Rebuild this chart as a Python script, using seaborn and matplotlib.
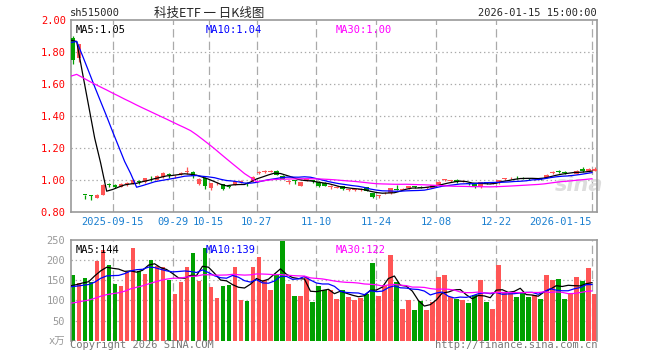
import matplotlib
matplotlib.use("Agg")
import matplotlib.pyplot as plt
import seaborn as sns
import numpy as np
import pandas as pd

# daily K-line data, 科技ETF (sh515000)
opens = [1.889, 1.763, 0.907, 0.903, 0.888, 0.908, 0.972, 0.970, 0.958, 0.973,
         0.977, 0.992, 0.985, 1.020, 1.002, 1.020, 1.036, 1.022, 1.038, 1.050,
         1.050, 0.976, 1.010, 0.950, 0.972, 0.972, 0.965, 0.970, 0.988, 0.982,
         0.992, 1.044, 1.050, 1.052, 1.058, 1.028, 0.990, 0.998, 0.965, 1.000,
         0.998, 0.990, 0.982, 0.955, 0.953, 0.960, 0.937, 0.938, 0.939, 0.955,
         0.918, 0.898, 0.916, 0.918, 0.942, 0.940, 0.947, 0.957, 0.955, 0.948,
         0.950, 0.970, 0.998, 0.993, 1.000, 0.990, 0.978, 0.977, 0.955, 0.981,
         0.978, 0.980, 1.006, 1.010, 1.018, 1.014, 1.007, 1.004, 1.007, 1.012,
         1.046, 1.055, 1.049, 1.028, 1.040, 1.070, 1.055, 1.058]
highs = [1.900, 1.853, 0.907, 0.908, 0.912, 0.972, 0.980, 0.974, 0.980, 0.986,
         1.005, 1.002, 1.013, 1.028, 1.032, 1.048, 1.046, 1.032, 1.052, 1.081,
         1.054, 1.010, 1.016, 0.984, 0.985, 0.976, 0.970, 0.995, 0.998, 0.990,
         1.024, 1.058, 1.062, 1.064, 1.062, 1.030, 0.998, 1.000, 0.988, 1.008,
         1.002, 0.995, 0.986, 0.966, 0.962, 0.965, 0.946, 0.946, 0.948, 0.958,
         0.920, 0.906, 0.922, 0.952, 0.970, 0.948, 0.965, 0.962, 0.962, 0.956,
         0.970, 0.992, 1.008, 1.002, 1.006, 0.998, 0.984, 0.980, 0.988, 0.986,
         0.986, 1.002, 1.012, 1.016, 1.026, 1.018, 1.012, 1.014, 1.012, 1.036,
         1.055, 1.062, 1.058, 1.034, 1.062, 1.080, 1.076, 1.084]
lows = [1.727, 1.740, 0.880, 0.878, 0.885, 0.905, 0.955, 0.952, 0.955, 0.962,
        0.974, 0.975, 0.980, 0.995, 0.998, 1.015, 1.012, 1.015, 1.032, 1.040,
        1.010, 0.970, 0.945, 0.940, 0.968, 0.935, 0.950, 0.966, 0.980, 0.962,
        0.988, 1.040, 1.044, 1.048, 1.030, 1.004, 0.972, 0.976, 0.960, 0.992,
        0.982, 0.956, 0.962, 0.945, 0.948, 0.938, 0.932, 0.934, 0.934, 0.930,
        0.890, 0.890, 0.912, 0.915, 0.936, 0.936, 0.944, 0.950, 0.948, 0.944,
        0.948, 0.968, 0.992, 0.988, 0.982, 0.985, 0.968, 0.950, 0.952, 0.972,
        0.972, 0.978, 1.000, 1.005, 1.008, 1.004, 1.000, 1.000, 0.998, 1.010,
        1.040, 1.045, 1.040, 1.022, 1.038, 1.050, 1.052, 1.055]
closes = [1.752, 1.847, 0.905, 0.900, 0.908, 0.970, 0.968, 0.958, 0.975, 0.976,
          1.000, 0.988, 1.010, 1.016, 1.028, 1.042, 1.032, 1.025, 1.042, 1.054,
          1.025, 1.005, 0.962, 0.980, 0.976, 0.945, 0.954, 0.992, 0.991, 0.978,
          1.020, 1.052, 1.054, 1.056, 1.033, 1.008, 0.994, 0.995, 0.985, 1.004,
          0.994, 0.965, 0.965, 0.958, 0.956, 0.942, 0.940, 0.941, 0.942, 0.932,
          0.893, 0.901, 0.919, 0.950, 0.939, 0.943, 0.963, 0.954, 0.952, 0.951,
          0.968, 0.990, 1.001, 0.996, 0.985, 0.993, 0.976, 0.955, 0.985, 0.979,
          0.981, 1.000, 1.009, 1.013, 1.016, 1.008, 1.005, 1.010, 1.005, 1.033,
          1.049, 1.052, 1.046, 1.031, 1.058, 1.055, 1.066, 1.070]
volumes = [163, 143, 155, 145, 198, 226, 188, 142, 135, 170,
           231, 173, 165, 200, 186, 183, 150, 115, 145, 183,
           218, 148, 230, 133, 107, 135, 138, 183, 100, 98,
           183, 208, 150, 125, 162, 247, 140, 110, 112, 157,
           95, 135, 125, 126, 103, 126, 109, 101, 107, 115,
           194, 112, 138, 213, 146, 79, 101, 76, 98, 76,
           97, 159, 163, 109, 103, 101, 94, 113, 151, 97,
           79, 188, 118, 118, 109, 118, 109, 113, 103, 163,
           151, 153, 103, 118, 158, 148, 181, 116]

# sessions before the window (not drawn, only feed the moving averages)
prior_closes = [1.50, 1.51, 1.52, 1.50, 1.53, 1.52, 1.54, 1.53, 1.55, 1.54,
                1.56, 1.55, 1.54, 1.56, 1.57, 1.55, 1.57, 1.58, 1.57, 1.58,
                1.78, 1.82, 1.85, 1.87, 1.90, 1.89, 1.92, 1.90, 1.91]
prior_volumes = [70, 68, 72, 66, 70, 68, 70, 68, 55, 52,
                 58, 54, 56, 53, 57, 55, 53, 135, 130, 140,
                 128, 135, 125, 140, 130, 128, 135, 130, 126]

holidays = ["2025-10-01", "2025-10-02", "2025-10-03", "2025-10-06",
            "2025-10-07", "2025-10-08", "2026-01-01", "2026-01-02"]
tick_dates = ["2025-09-15", "2025-09-29", "2025-10-15", "2025-10-27", "2025-11-10",
              "2025-11-24", "2025-12-08", "2025-12-22", "2026-01-15"]
tick_labels = ["2025-09-15", "09-29", "10-15", "10-27", "11-10",
               "11-24", "12-08", "12-22", "2026-01-15"]

price_ma_labels = ["MA5:1.05", "MA10:1.04", "MA30:1.00"]
vol_ma_labels = ["MA5:144", "MA10:139", "MA30:122"]

days = pd.bdate_range("2025-09-04", "2026-01-15")
days = days[~days.isin(pd.to_datetime(holidays))]
df = pd.DataFrame({"date": days, "open": opens, "high": highs, "low": lows,
                   "close": closes, "volume": volumes})
df["i"] = np.arange(len(df))
n_prior = len(prior_closes)
full_c = pd.Series(prior_closes + closes)
full_v = pd.Series(prior_volumes + volumes)
for n in (5, 10, 30):
    df[f"ma{n}"] = full_c.rolling(n).mean().iloc[n_prior:].values
    df[f"vma{n}"] = full_v.rolling(n).mean().iloc[n_prior:].values

UP, DOWN = "#FF5555", "#00A000"
colors = np.where(df["close"] >= df["open"], UP, DOWN)
ma_colors = {5: "black", 10: "#0000FF", 30: "#FF00FF"}
GRID = "#AAAAAA"

sns.set_style("white")
plt.rcParams["font.family"] = ["DejaVu Sans Mono", "Noto Sans CJK SC"]
plt.rcParams["lines.scale_dashes"] = False
plt.rcParams["patch.force_edgecolor"] = False

fig = plt.figure(figsize=(6.6, 3.6), dpi=100)
ax1 = fig.add_axes([0.1071, 0.4111, 0.7974, 0.5333])
ax2 = fig.add_axes([0.1071, 0.0536, 0.7974, 0.2797])

tick_pos = [int(df.index[df["date"] == pd.Timestamp(d)][0]) for d in tick_dates]
off = 0.4  # candle centre sits right of the session mark

for ax in (ax1, ax2):
    ax.set_xlim(0, 87.8)
    ax.set_axisbelow(True)
    for p in tick_pos:
        ax.axvline(p, color=GRID, lw=0.9, ls=(0, (6, 3)), zorder=0)
    for s in ax.spines.values():
        s.set_color("#999999")
        s.set_linewidth(1.2)
    ax.tick_params(length=0)

# price panel
ax1.vlines(df["i"] + off, df["low"], df["high"], colors=colors, lw=0.9, zorder=2)
body = np.maximum((df["close"] - df["open"]).abs(), 0.0055)
ax1.bar(df["i"] + off, body, bottom=np.minimum(df["open"], df["close"]),
        width=0.8, color=colors, edgecolor="none", linewidth=0, zorder=3)
for n in (5, 10, 30):
    sns.lineplot(x=df["i"], y=df[f"ma{n}"], ax=ax1, color=ma_colors[n], lw=0.9, zorder=4)
ax1.set_ylim(0.80, 2.00)
ax1.set_yticks(np.arange(0.80, 2.01, 0.20))
ax1.set_yticklabels([f"{v:.2f}" for v in np.arange(0.80, 2.01, 0.20)],
                    color="#FF0000", fontsize=7.5)
for v in np.arange(1.00, 1.81, 0.20):
    ax1.axhline(v, color=GRID, lw=0.9, ls=(0, (1, 2)), zorder=0)
ax1.set_xticks(tick_pos)
ax1.set_xticklabels(tick_labels, color="#1A7FD0", fontsize=7.5)
ax1.get_xticklabels()[-1].set_ha("right")
ax1.tick_params(axis="x", pad=3.5)
ax1.tick_params(axis="y", pad=3.5)
ax1.set_xlabel("")
ax1.set_ylabel("")
for lab, xp in zip(price_ma_labels, (5, 135, 265)):
    c = ma_colors[int(lab[2:lab.index(":")])]
    ax1.text(xp / 526.3, 0.975, lab, transform=ax1.transAxes, color=c,
             fontsize=7.5, ha="left", va="top")
ax1.text(0.965, 0.14, "sina", transform=ax1.transAxes, color="#DDDDDD",
         fontsize=15, fontweight="bold", style="italic", family="DejaVu Sans",
         ha="center", va="center", zorder=1)

# volume panel
ax2.bar(df["i"] + off, df["volume"], width=0.8, color=colors,
        edgecolor="none", linewidth=0, zorder=2)
for n in (5, 10, 30):
    sns.lineplot(x=df["i"], y=df[f"vma{n}"], ax=ax2, color=ma_colors[n], lw=0.9, zorder=4)
ax2.set_ylim(0, 250)
ax2.set_yticks([0, 50, 100, 150, 200, 250])
ax2.set_yticklabels(["x万", "50", "100", "150", "200", "250"], color="#999999", fontsize=7.5)
ax2.tick_params(axis="y", pad=4)
for v in (50, 100, 150, 200):
    ax2.axhline(v, color=GRID, lw=0.9, ls=(0, (1, 2)), zorder=0)
ax2.set_xticks([])
ax2.set_xlabel("")
ax2.set_ylabel("")
ax2.spines["bottom"].set_visible(False)
for lab, xp in zip(vol_ma_labels, (5, 135, 265)):
    c = ma_colors[int(lab[2:lab.index(":")])]
    ax2.text(xp / 526.3, 0.95, lab, transform=ax2.transAxes, color=c,
             fontsize=7.5, ha="left", va="top")

# header / footer
fig.text(70 / 660, 1 - 13 / 360, "sh515000", fontsize=7.5, ha="left", va="center")
fig.text(209 / 660, 1 - 13 / 360, "科技ETF 一 日K线图", fontsize=9,
         family=["Noto Sans CJK SC"], ha="center", va="center")
fig.text(597 / 660, 1 - 13 / 360, "2026-01-15 15:00:00", fontsize=7.5,
         ha="right", va="center")
fig.text(70 / 660, 1 - 345.5 / 360, "Copyright 2026 SINA.COM", fontsize=7.5,
         color="#777777", ha="left", va="center")
fig.text(597 / 660, 1 - 345.5 / 360, "http://finance.sina.com.cn", fontsize=7.5,
         color="#777777", ha="right", va="center")

fig.savefig("out.png", dpi=100)
